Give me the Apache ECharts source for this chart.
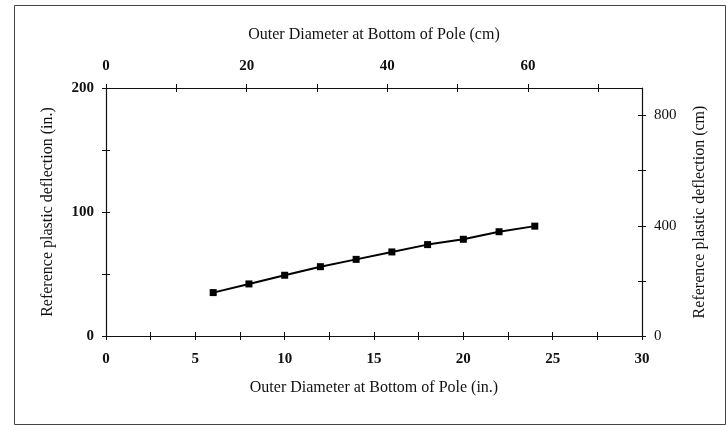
<!DOCTYPE html>
<html>
<head>
<meta charset="utf-8">
<script src="https://cdn.jsdelivr.net/npm/echarts@6/dist/echarts.min.js"></script>
<style>html,body{margin:0;padding:0;background:#fff}#c{width:726px;height:425px}</style>
</head>
<body>
<div id="c"></div>
<script>
var diameterIn = [6, 8, 10, 12, 14, 16, 18, 20, 22, 24];
var deflectionIn = [35.0, 42.0, 49.0, 55.9, 61.8, 67.8, 73.7, 78.0, 84.1, 88.6];
var bottomTitle = 'Outer Diameter at Bottom of Pole (in.)';
var topTitle = 'Outer Diameter at Bottom of Pole (cm)';
var leftTitle = 'Reference plastic deflection (in.)';
var rightTitle = 'Reference plastic deflection (cm)';

var FONT = '"Liberation Serif", "Times New Roman", serif';
var chart = echarts.init(document.getElementById('c'));
var lineStyle = {color: '#111', width: 1.2};
var tickStyle = {color: '#111', width: 1};
var lblBold = {color: '#111', fontFamily: FONT, fontSize: 15, fontWeight: 'bold'};
var lblNorm = {color: '#111', fontFamily: FONT, fontSize: 15};
var nameStyle = {color: '#111', fontFamily: FONT, fontSize: 16};

function every(step) {
  return function (v) {
    var r = v / step;
    return Math.abs(r - Math.round(r)) < 1e-6 ? String(Math.round(v)) : '';
  };
}
function innerAxis(pos, gi, min, max, interval) {
  return {type: 'value', gridIndex: gi, position: pos, min: min, max: max, interval: interval,
    axisLine: {show: false, onZero: false},
    axisTick: {show: true, inside: true, length: 4, lineStyle: tickStyle},
    axisLabel: {show: false}, splitLine: {show: false}};
}
var gridRect = {left: 106, right: 84, top: 88, bottom: 89, containLabel: false};

chart.setOption({
  backgroundColor: '#fff',
  animation: false,
  graphic: [{
    type: 'rect', left: 12, top: 3, silent: true,
    shape: {width: 711, height: 419},
    style: {fill: 'none', stroke: '#444', lineWidth: 1}
  }],
  grid: [Object.assign({}, gridRect), Object.assign({}, gridRect)],
  xAxis: [
    {type: 'value', gridIndex: 0, position: 'bottom', min: 0, max: 30, interval: 2.5,
     axisLine: {show: true, onZero: false, lineStyle: lineStyle},
     axisTick: {show: true, inside: false, length: 4, lineStyle: tickStyle},
     axisLabel: {margin: 16, formatter: every(5), ...lblBold},
     splitLine: {show: false},
     name: bottomTitle, nameLocation: 'middle', nameGap: 44, nameTextStyle: nameStyle},
    {type: 'value', gridIndex: 0, position: 'top', min: 0, max: 76.2, interval: 10,
     axisLine: {show: true, onZero: false, lineStyle: lineStyle},
     axisTick: {show: true, inside: false, length: 4, lineStyle: tickStyle},
     axisLabel: {margin: 14, formatter: every(20), showMaxLabel: false, ...lblBold},
     splitLine: {show: false},
     name: topTitle, nameLocation: 'middle', nameGap: 45, nameTextStyle: nameStyle},
    innerAxis('bottom', 1, 0, 30, 2.5),
    innerAxis('top', 1, 0, 76.2, 10)
  ],
  yAxis: [
    {type: 'value', gridIndex: 0, position: 'left', min: 0, max: 200, interval: 50,
     axisLine: {show: true, onZero: false, lineStyle: lineStyle},
     axisTick: {show: true, inside: false, length: 4, lineStyle: tickStyle},
     axisLabel: {margin: 12, formatter: every(100), ...lblBold},
     splitLine: {show: false},
     name: leftTitle, nameLocation: 'middle', nameGap: 50, nameTextStyle: nameStyle},
    {type: 'value', gridIndex: 0, position: 'right', min: 0, max: 900, interval: 200,
     axisLine: {show: true, onZero: false, lineStyle: lineStyle},
     axisTick: {show: true, inside: false, length: 4, lineStyle: tickStyle},
     axisLabel: {margin: 12, formatter: every(400), showMaxLabel: false, ...lblNorm},
     splitLine: {show: false},
     name: rightTitle, nameLocation: 'middle', nameGap: 50, nameTextStyle: nameStyle},
    innerAxis('left', 1, 0, 200, 50),
    innerAxis('right', 1, 0, 900, 200)
  ],
  series: [{
    type: 'line', xAxisIndex: 0, yAxisIndex: 0,
    data: diameterIn.map(function (d, i) { return [d, deflectionIn[i]]; }),
    symbol: 'rect', symbolSize: 7, showSymbol: true,
    lineStyle: {color: '#000', width: 2},
    itemStyle: {color: '#000'}
  }]
});
</script>
</body>
</html>
